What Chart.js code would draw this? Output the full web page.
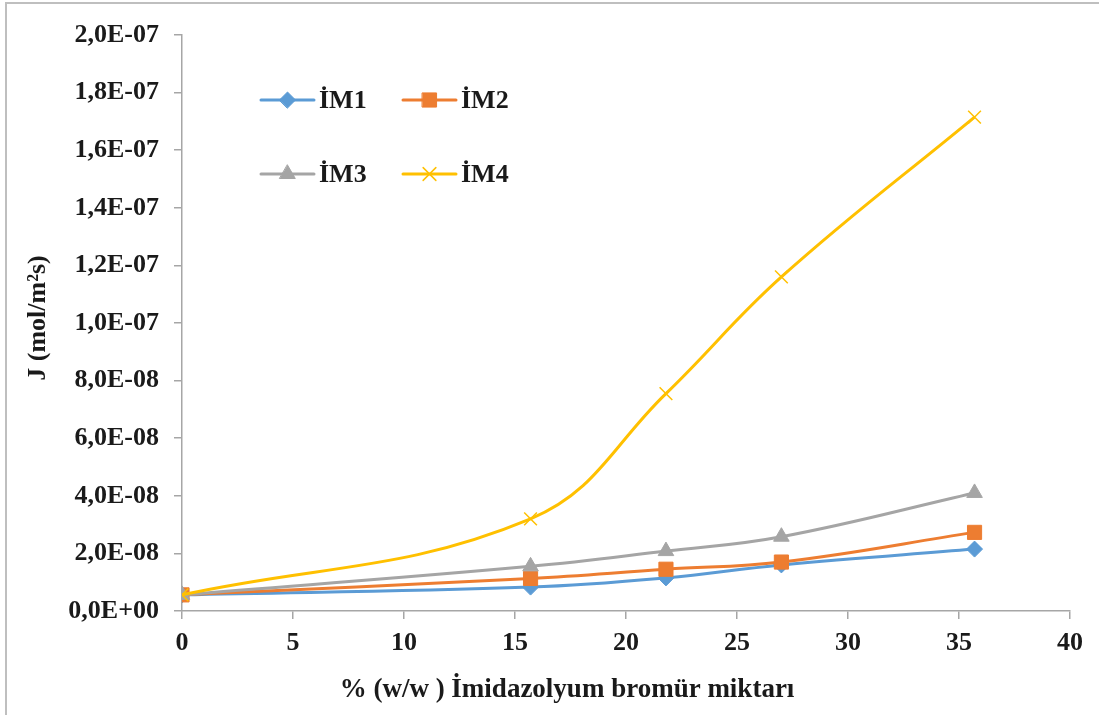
<!DOCTYPE html>
<html>
<head>
<meta charset="utf-8">
<script src="https://cdn.jsdelivr.net/npm/chart.js@4.4.1/dist/chart.umd.min.js"></script>
<style>
    html, body { margin: 0; padding: 0; background: #fff; }
    #wrap {
        position: relative;
        width: 1099px;
        height: 715px;
        overflow: hidden;
    }
    #frame {
        position: absolute;
        left: 5px; top: 2px;
        width: 1200px; height: 800px;
        border-top: 2px solid #bfbfbf;
        border-left: 2px solid #bfbfbf;
        pointer-events: none;
    }
    canvas { position: absolute; left: 0; top: 0; }
</style>
</head>
<body>
<div id="wrap">
    <canvas id="flux-chart" width="1099" height="715"></canvas>
    <div id="frame"></div>
</div>
<script>
// imidazolium bromide content (% w/w)
const xValues = [0, 15.7, 21.8, 27.0, 35.7];

// flux J (mol/m2s) for each membrane
const im1 = [5.6e-9, 8.3e-9, 1.15e-8, 1.6e-8, 2.15e-8];
const im2 = [5.6e-9, 1.13e-8, 1.45e-8, 1.7e-8, 2.73e-8];
const im3 = [5.6e-9, 1.55e-8, 2.08e-8, 2.58e-8, 4.1e-8];
const im4 = [5.6e-9, 3.2e-8, 7.55e-8, 1.16e-7, 1.715e-7];

const seriesNames = ['İM1', 'İM2', 'İM3', 'İM4'];
const xTitle = '% (w/w ) İmidazolyum bromür miktarı';
const yTitle = 'J (mol/m²s)';

const FONT = "'Liberation Serif', 'Times New Roman', serif";
const AXIS_GREY = '#a6a6a6';
const TEXT = '#1a1a1a';

const toPoints = ys => ys.map((y, i) => ({ x: xValues[i], y: y }));

// E-notation with a decimal comma, e.g. 2,0E-07
function sciLabel(v) {
    const s = Number(v).toExponential(1);
    const [m, e] = s.split('e');
    const sign = e[0] === '-' ? '-' : '+';
    const digits = e.replace(/[+-]/, '').padStart(2, '0');
    return m.replace('.', ',') + 'E' + sign + digits;
}

// legend laid out as a 2x2 block inside the plot area
const legendSlots = [
    { x: 261, y: 100 },
    { x: 403, y: 100 },
    { x: 261, y: 174 },
    { x: 403, y: 174 }
];

const gridLegend = {
    id: 'gridLegend',
    afterDraw(chart) {
        const ctx = chart.ctx;
        chart.data.datasets.forEach((ds, i) => {
            const slot = legendSlots[i];
            ctx.save();
            ctx.strokeStyle = ds.borderColor;
            ctx.lineWidth = 3;
            ctx.lineCap = 'round';
            ctx.beginPath();
            ctx.moveTo(slot.x, slot.y);
            ctx.lineTo(slot.x + 53, slot.y);
            ctx.stroke();
            ctx.fillStyle = ds.pointBackgroundColor;
            ctx.strokeStyle = ds.pointBorderColor;
            ctx.lineWidth = ds.pointBorderWidth;
            Chart.helpers.drawPoint(ctx, {
                pointStyle: ds.pointStyle,
                radius: ds.pointRadius,
                rotation: 0,
                borderWidth: ds.pointBorderWidth
            }, slot.x + 26.5, slot.y);
            ctx.fillStyle = TEXT;
            ctx.font = 'bold 26px ' + FONT;
            ctx.textAlign = 'left';
            ctx.textBaseline = 'middle';
            ctx.fillText(ds.label, slot.x + 58, slot.y + 1);
            ctx.restore();
        });
    }
};

// axis titles are centred on the whole figure rather than on the plot area
const axisTitles = {
    id: 'axisTitles',
    afterDraw(chart) {
        const ctx = chart.ctx;
        ctx.save();
        ctx.fillStyle = TEXT;
        ctx.textAlign = 'center';
        ctx.textBaseline = 'middle';
        ctx.font = 'bold 27px ' + FONT;
        ctx.fillText(xTitle, 567, 690);
        ctx.translate(38, 318);
        ctx.rotate(-Math.PI / 2);
        ctx.font = 'bold 26px ' + FONT;
        ctx.fillText(yTitle, 0, 0);
        ctx.restore();
    }
};

function makeSet(label, data, color, style, radius, order, markerWidth) {
    return {
        label: label,
        data: toPoints(data),
        borderColor: color,
        backgroundColor: color,
        borderWidth: 3,
        tension: 0.4,
        pointStyle: style,
        pointRadius: radius,
        pointHoverRadius: radius,
        pointBackgroundColor: color,
        pointBorderColor: color,
        pointBorderWidth: markerWidth,
        order: order
    };
}

const ctx = document.getElementById('flux-chart').getContext('2d');
const chart = new Chart(ctx, {
    type: 'line',
    data: {
        datasets: [
            makeSet(seriesNames[0], im1, '#5b9bd5', 'rectRot', 8, 4, 1),
            makeSet(seriesNames[1], im2, '#ed7d31', 'rect', 10, 3, 1),
            makeSet(seriesNames[2], im3, '#a5a5a5', 'triangle', 9, 2, 1),
            makeSet(seriesNames[3], im4, '#ffc000', 'crossRot', 9, 1, 1.5)
        ]
    },
    options: {
        responsive: false,
        animation: false,
        devicePixelRatio: 1,
        layout: { padding: { left: 0, top: 35, right: 29, bottom: 0 } },
        plugins: {
            legend: { display: false },
            tooltip: { enabled: false }
        },
        scales: {
            x: {
                type: 'linear',
                min: 0,
                max: 40,
                ticks: {
                    stepSize: 5,
                    padding: 9,
                    color: TEXT,
                    font: { family: FONT, size: 26, weight: 'bold' }
                },
                grid: {
                    drawOnChartArea: false,
                    drawTicks: true,
                    tickLength: 8,
                    color: AXIS_GREY,
                    lineWidth: 1.5
                },
                border: { color: AXIS_GREY, width: 1.5 },
                afterFit(scale) { scale.height = 104; }
            },
            y: {
                min: 0,
                max: 2e-7,
                ticks: {
                    stepSize: 2e-8,
                    padding: 15,
                    color: TEXT,
                    font: { family: FONT, size: 26, weight: 'bold' },
                    callback: v => sciLabel(v)
                },
                grid: {
                    drawOnChartArea: false,
                    drawTicks: true,
                    tickLength: 8,
                    color: AXIS_GREY,
                    lineWidth: 1.5
                },
                border: { color: AXIS_GREY, width: 1.5 },
                afterFit(scale) { scale.width = 182; }
            }
        }
    },
    plugins: [gridLegend, axisTitles]
});
</script>
</body>
</html>
